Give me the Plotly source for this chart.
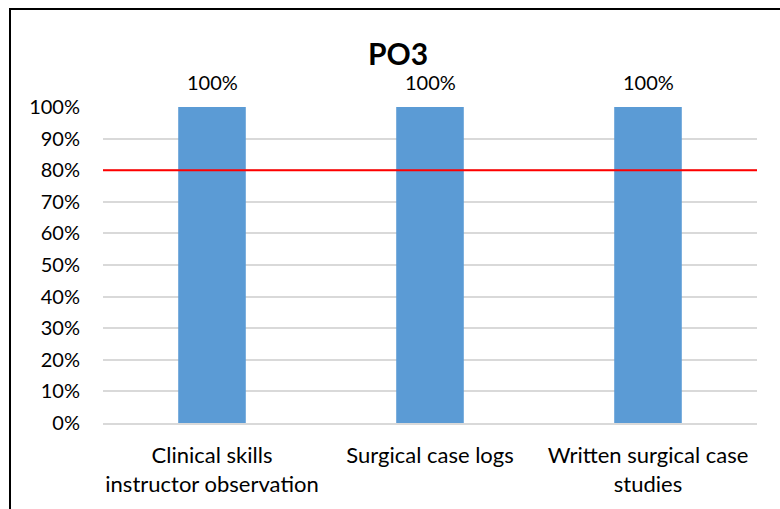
import plotly.graph_objects as go

categories = ["Clinical skills<br>instructor observation", "Surgical case logs", "Written surgical case<br>studies"]
values = [1.0, 1.0, 1.0]
target = 0.8
y_ticks = [0, 0.1, 0.2, 0.3, 0.4, 0.5, 0.6, 0.7, 0.8, 0.9, 1.0]
y_tick_labels = ["0%", "10%", "20%", "30%", "40%", "50%", "60%", "70%", "80%", "90%", "100%"]

FONT = "Lato"

fig = go.Figure()
fig.add_trace(go.Bar(
    x=categories, y=values, width=0.31,
    marker=dict(color="#5B9BD5", line=dict(width=0)),
    showlegend=False, hoverinfo="skip",
))
for c, v in zip(categories, values):
    fig.add_annotation(x=c, y=v, xref="x", yref="y", text=f"{v:.0%}",
                       showarrow=False, yanchor="bottom", yshift=11,
                       font=dict(family=FONT, size=20, color="#000"))

fig.add_shape(type="line", xref="paper", yref="y", x0=0, x1=1, y0=target, y1=target,
              line=dict(color="#FF0000", width=2), layer="above")

# outer chart border
fig.add_shape(type="rect", xref="paper", yref="paper",
              x0=(10 - 103) / 654, x1=1.2, y0=-0.5, y1=1 + (107 - 9) / 316,
              line=dict(color="#000", width=2), fillcolor="rgba(0,0,0,0)")

fig.update_layout(
    width=780, height=509,
    margin=dict(l=103, r=23, t=107, b=86),
    paper_bgcolor="white", plot_bgcolor="white",
    title=dict(text="<b>PO3</b>", x=(398 - 103) / 654, xref="paper", xanchor="center",
               y=1 - 54 / 509, yanchor="middle",
               font=dict(family=FONT, size=30, color="#000")),
    font=dict(family=FONT, size=20, color="#000"),
    bargap=0.69,
)
fig.update_yaxes(range=[0, 1.0], tickvals=y_ticks, ticktext=y_tick_labels,
                 showgrid=True, gridcolor="#D9D9D9", gridwidth=1.5,
                 zeroline=False, showline=False, ticks="", ticklabelstandoff=22,
                 tickfont=dict(family=FONT, size=20, color="#000"))
fig.update_xaxes(showgrid=False, showline=True, linecolor="#D9D9D9", linewidth=1.5,
                 ticks="", ticklabelstandoff=12,
                 tickfont=dict(family=FONT, size=22, color="#000"))

fig.write_html("out.html", config={"displayModeBar": False},
               post_script="document.body.style.margin='0';")
